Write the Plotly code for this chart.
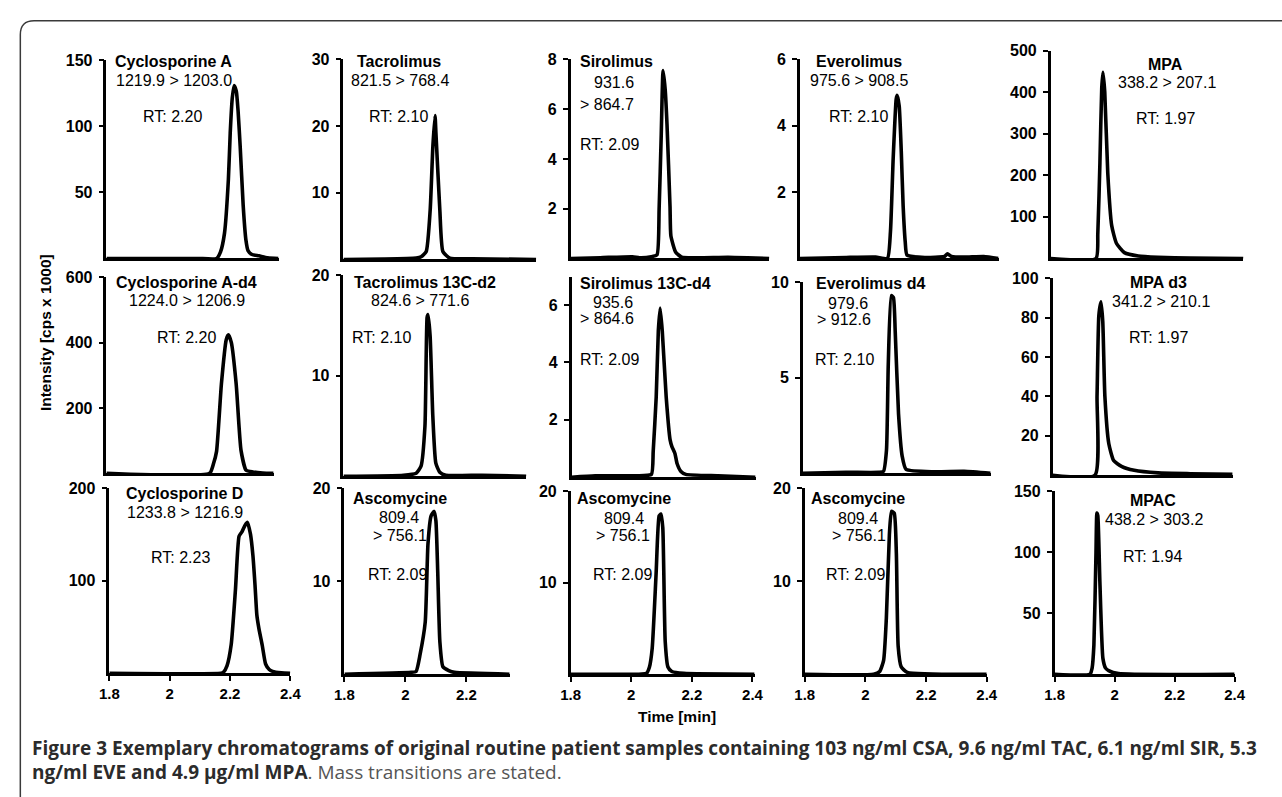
import plotly.graph_objects as go

# ---------------- data ----------------
COMPOUNDS = ["Cyclosporine A", "Tacrolimus", "Sirolimus", "Everolimus", "MPA",
             "Cyclosporine A-d4", "Tacrolimus 13C-d2", "Sirolimus 13C-d4", "Everolimus d4", "MPA d3",
             "Cyclosporine D", "Ascomycine", "Ascomycine", "Ascomycine", "MPAC"]
TRANSITIONS = [["1219.9 > 1203.0"], ["821.5 > 768.4"], ["931.6", "> 864.7"], ["975.6 > 908.5"], ["338.2 > 207.1"],
               ["1224.0 > 1206.9"], ["824.6 > 771.6"], ["935.6", "> 864.6"], ["979.6", "> 912.6"], ["341.2 > 210.1"],
               ["1233.8 > 1216.9"], ["809.4", "> 756.1"], ["809.4", "> 756.1"], ["809.4", "> 756.1"], ["438.2 > 303.2"]]
RT_LABELS = ["RT: 2.20", "RT: 2.10", "RT: 2.09", "RT: 2.10", "RT: 1.97",
             "RT: 2.20", "RT: 2.10", "RT: 2.09", "RT: 2.10", "RT: 1.97",
             "RT: 2.23", "RT: 2.09", "RT: 2.09", "RT: 2.09", "RT: 1.94"]

CSA_T = [1.80, 2.10, 2.165, 2.178, 2.191, 2.204, 2.210, 2.217, 2.223, 2.230, 2.236, 2.243, 2.253, 2.262, 2.269, 2.282, 2.305, 2.334, 2.370]
CSA_I = [0, 0, 0, 5, 19, 60, 95, 122, 131, 127, 112, 85, 40, 14, 6, 3, 2, 0.5, 0]
TAC_T = [1.80, 1.934, 2.041, 2.057, 2.074, 2.087, 2.096, 2.103, 2.106, 2.119, 2.129, 2.152, 2.227, 2.438]
TAC_I = [0, 0.05, 0.2, 0.4, 1.2, 7.4, 17, 21.6, 19, 7.4, 1.2, 0.2, 0.1, 0]
SIR_T = [1.80, 1.898, 2.005, 2.028, 2.067, 2.086, 2.093, 2.100, 2.106, 2.113, 2.119, 2.129, 2.132, 2.148, 2.168, 2.223, 2.321, 2.386, 2.458]
SIR_I = [0, 0.03, 0.07, 0.03, 0.07, 0.15, 2, 5, 7.55, 6.8, 5.4, 2.1, 0.9, 0.25, 0.05, 0.03, 0.05, 0.03, 0]
EVE_T = [1.80, 1.953, 2.051, 2.090, 2.100, 2.109, 2.119, 2.122, 2.129, 2.136, 2.142, 2.149, 2.155, 2.214, 2.279, 2.289, 2.302, 2.344, 2.409, 2.458]
EVE_I = [0, 0.03, 0.04, 0, 0.8, 3, 4.8, 4.92, 4.6, 3.2, 1.6, 0.5, 0.1, 0.03, 0.06, 0.14, 0.06, 0.04, 0.06, 0]
MPA_T = [1.80, 1.950, 1.956, 1.963, 1.969, 1.973, 1.979, 1.989, 2.002, 2.018, 2.044, 2.090, 2.155, 2.263, 2.438]
MPA_I = [0, 0, 60, 230, 410, 448, 400, 205, 79, 36, 14, 6, 3, 1, 0]

CSAD4_T = [1.80, 2.142, 2.155, 2.165, 2.181, 2.197, 2.204, 2.214, 2.230, 2.246, 2.263, 2.285, 2.318, 2.354]
CSAD4_I = [0, 0, 30, 67, 273, 409, 424, 400, 273, 70, 9, 4, 1, 0]
TACD2_T = [1.80, 1.999, 2.041, 2.057, 2.070, 2.077, 2.080, 2.087, 2.096, 2.106, 2.119, 2.139, 2.259, 2.406]
TACD2_I = [0, 0.1, 0.3, 1, 5, 15.8, 16.1, 14, 6, 1.3, 0.4, 0.1, 0.1, 0]
SIRD4_T = [1.80, 1.878, 2.015, 2.064, 2.070, 2.080, 2.087, 2.093, 2.100, 2.113, 2.126, 2.132, 2.142, 2.149, 2.162, 2.178, 2.285, 2.409]
SIRD4_I = [0, 0.05, 0.05, 0.1, 0.9, 2.8, 5.1, 5.9, 5.1, 2.8, 1.3, 1.07, 0.83, 0.48, 0.2, 0.1, 0.05, 0]
EVED4_T = [1.80, 1.943, 2.051, 2.067, 2.077, 2.083, 2.093, 2.100, 2.106, 2.117, 2.129, 2.142, 2.236, 2.334, 2.422]
EVED4_I = [0, 0.05, 0.05, 0.1, 1.2, 5.7, 9.3, 9.2, 7.4, 3.1, 0.9, 0.2, 0.08, 0.1, 0]
MPAD3_T = [1.80, 1.940, 1.947, 1.953, 1.960, 1.966, 1.973, 1.986, 2.002, 2.028, 2.070, 2.149, 2.256, 2.396]
MPAD3_I = [0, 0, 40, 81, 88, 78, 40, 16, 7.5, 4.5, 2.5, 1.2, 0.8, 0.5]

CSD_T = [1.80, 2.17, 2.178, 2.19, 2.204, 2.218, 2.230, 2.240, 2.250, 2.258, 2.268, 2.276, 2.283, 2.289, 2.296, 2.307, 2.318, 2.330, 2.341, 2.37, 2.40]
CSD_I = [0, 0, 1, 8, 31, 90, 148, 153, 160, 163, 150, 127, 95, 63, 48, 30, 10, 4, 2, 0.5, 0]
ASC1_T = [1.80, 2.019, 2.035, 2.048, 2.065, 2.074, 2.084, 2.094, 2.100, 2.106, 2.113, 2.123, 2.142, 2.161, 2.342]
ASC1_I = [0, 0.2, 0.3, 2.1, 5.6, 14, 17, 17.5, 16.5, 11, 3.5, 0.8, 0.4, 0.2, 0]
ASC2_T = [1.80, 2.021, 2.05, 2.06, 2.069, 2.082, 2.092, 2.098, 2.104, 2.112, 2.121, 2.134, 2.173, 2.407]
ASC2_I = [0, 0, 0.1, 0.8, 2.8, 11, 17.3, 17.5, 16, 3.6, 0.8, 0.3, 0.1, 0]
ASC3_T = [1.80, 2.027, 2.047, 2.06, 2.069, 2.079, 2.086, 2.095, 2.102, 2.108, 2.118, 2.138, 2.4]
ASC3_I = [0, 0, 0.3, 1.5, 6, 15, 17.5, 17.3, 13, 3, 0.8, 0.2, 0]
MPAC_T = [1.80, 1.918, 1.925, 1.931, 1.938, 1.941, 1.944, 1.951, 1.961, 1.970, 1.980, 2.013, 2.4]
MPAC_I = [0, 0, 5, 24, 100, 132, 130, 75, 13, 5, 3, 0.5, 0]

SERIES = [(CSA_T, CSA_I), (TAC_T, TAC_I), (SIR_T, SIR_I), (EVE_T, EVE_I), (MPA_T, MPA_I),
          (CSAD4_T, CSAD4_I), (TACD2_T, TACD2_I), (SIRD4_T, SIRD4_I), (EVED4_T, EVED4_I), (MPAD3_T, MPAD3_I),
          (CSD_T, CSD_I), (ASC1_T, ASC1_I), (ASC2_T, ASC2_I), (ASC3_T, ASC3_I), (MPAC_T, MPAC_I)]

Y_MAX = [150, 30, 8, 6, 500, 600, 20, 6.97, 10, 100, 200, 20, 20, 20, 150]
Y_TICKS = [[50, 100, 150], [10, 20, 30], [2, 4, 6, 8], [2, 4, 6], [100, 200, 300, 400, 500],
           [200, 400, 600], [10, 20], [2, 4, 6], [5, 10], [20, 40, 60, 80, 100],
           [100, 200], [10, 20], [10, 20], [10, 20], [50, 100, 150]]
X_MAX = [2.370, 2.438, 2.458, 2.458, 2.438, 2.354, 2.406, 2.409, 2.422, 2.396, 2.4, 2.342, 2.407, 2.4, 2.4]
X_TICKS = [1.8, 2, 2.2, 2.4]
X_TICK_LABELS = ["1.8", "2", "2.2", "2.4"]

# ---------------- layout geometry (pixels) ----------------
W, H = 1282, 797
# x0 (y-axis), x1 (right end), y baseline, y top of axis
GEOM = [(98, 273, 253, 53), (339, 535, 254, 52), (570, 772, 253, 52), (803, 1005, 253, 52), (1058, 1254, 253, 43),
        (98, 268, 470, 272), (339, 525, 473, 270), (571, 758, 474, 272), (806, 997, 470, 277), (1060, 1243, 472, 273),
        (101, 285, 672, 485), (340, 508, 673, 485), (570, 757, 673, 488), (808, 993, 673, 485), (1062, 1245, 673, 488)]
# label positions: name (x,y), transition lines [(x,y)...], RT (x,y)
LBL = [((166, 54), [(167, 73)], (165, 110)),
       ((395, 54), [(397, 73)], (395, 110)),
       ((617, 54), [(614, 75), (607, 97)], (609, 138)),
       ((863, 54), [(863, 73)], (863, 110)),
       ((1175, 57), [(1176, 75)], (1175, 112)),
       ((179, 277), [(180, 295)], (179, 333)),
       ((422, 277), [(417, 295)], (378, 333)),
       ((646, 278), [(613, 297), (607, 314)], (609, 355)),
       ((875, 278), [(852, 298), (848, 315)], (848, 355)),
       ((1168, 277), [(1170, 296)], (1168, 333)),
       ((177, 490), [(178, 510)], (173, 555)),
       ((396, 495), [(395, 515), (397, 533)], (394, 572)),
       ((624, 495), [(624, 516), (623, 533)], (623, 572)),
       ((862, 495), [(862, 516), (863, 533)], (860, 572)),
       ((1162, 497), [(1163, 517)], (1162, 554))]

FONT = "Liberation Sans, Arial, sans-serif"


def px(x):
    return x / W


def py(y):
    return 1 - y / H


fig = go.Figure()
layout = {}
annotations = []

for i, ((t, inten), (x0, x1, yb, yt)) in enumerate(zip(SERIES, GEOM)):
    n = "" if i == 0 else str(i + 1)
    xa, ya = "x" + n, "y" + n
    fig.add_trace(go.Scatter(x=t, y=inten, mode="lines", xaxis=xa, yaxis=ya,
                             line=dict(color="black", width=3.6, shape="spline", smoothing=0.5),
                             hoverinfo="skip", showlegend=False))
    bottom = i >= 10
    xt = [v for v in X_TICKS if v <= X_MAX[i] + 1e-9]
    layout["xaxis" + n] = dict(
        domain=[px(x0), px(x1)], range=[1.8, X_MAX[i]], anchor=ya,
        showline=True, linecolor="black", linewidth=2.5, showgrid=False, zeroline=False,
        ticks="outside" if bottom else "", ticklen=5, tickwidth=2, tickcolor="black",
        tickvals=xt, ticktext=X_TICK_LABELS[:len(xt)], showticklabels=bottom,
        tickfont=dict(family=FONT, size=15, color="black", weight="bold"),
        fixedrange=True)
    layout["yaxis" + n] = dict(
        domain=[py(yb), py(yt)], range=[0, Y_MAX[i]], anchor=xa,
        showline=True, linecolor="black", linewidth=2.5, showgrid=False, zeroline=False,
        ticks="outside", ticklen=5, tickwidth=2, tickcolor="black",
        tickvals=Y_TICKS[i], ticktext=[str(v) for v in Y_TICKS[i]],
        tickfont=dict(family=FONT, size=16, color="black", weight="bold"),
        ticklabelstandoff=3, fixedrange=True)

    (nx, ny), tlines, (rx, ry) = LBL[i]
    annotations.append(dict(x=px(nx), y=py(ny), xref="paper", yref="paper", text="<b>%s</b>" % COMPOUNDS[i],
                            showarrow=False, xanchor="center", yanchor="middle",
                            font=dict(family=FONT, size=16, color="black")))
    for (tx, ty), txt in zip(tlines, TRANSITIONS[i]):
        annotations.append(dict(x=px(tx), y=py(ty), xref="paper", yref="paper", text=txt,
                                showarrow=False, xanchor="center", yanchor="middle",
                                font=dict(family=FONT, size=16, color="black")))
    annotations.append(dict(x=px(rx), y=py(ry), xref="paper", yref="paper", text=RT_LABELS[i],
                            showarrow=False, xanchor="center", yanchor="middle",
                            font=dict(family=FONT, size=16, color="black")))

# axis titles
annotations.append(dict(x=px(36), y=py(328), xref="paper", yref="paper", text="<b>Intensity [cps x 1000]</b>",
                        textangle=-90, showarrow=False, xanchor="center", yanchor="middle",
                        font=dict(family=FONT, size=15.5, color="black")))
annotations.append(dict(x=px(678), y=py(716), xref="paper", yref="paper", text="<b>Time [min]</b>",
                        showarrow=False, xanchor="center", yanchor="middle",
                        font=dict(family=FONT, size=15.5, color="black")))

# caption
CAP_FONT = "Open Sans, sans-serif"
annotations.append(dict(
    x=px(20), y=py(747), xref="paper", yref="paper", showarrow=False, xanchor="left", yanchor="middle",
    text="<b>Figure 3 Exemplary chromatograms of original routine patient samples containing 103 ng/ml CSA, 9.6 ng/ml TAC, 6.1 ng/ml SIR, 5.3</b>",
    font=dict(family=CAP_FONT, size=19, color="#2b2b2b")))
annotations.append(dict(
    x=px(20), y=py(772), xref="paper", yref="paper", showarrow=False, xanchor="left", yanchor="middle",
    text="<b>ng/ml EVE and 4.9 µg/ml MPA</b><span style='color:#555555'>. Mass transitions are stated.</span>",
    font=dict(family=CAP_FONT, size=19, color="#2b2b2b")))

# frame (rounded top-left corner, other sides cropped)
r = 14
path = "M %f,%f L %f,%f Q %f,%f %f,%f L %f,%f" % (
    px(10.5), py(810), px(10.5), py(13 + r), px(10.5), py(13), px(10.5 + r), py(13), px(1295), py(13))
shapes = [dict(type="path", xref="paper", yref="paper", path=path,
               line=dict(color="#3a3a3a", width=1.5))]

fig.update_layout(width=W, height=H, margin=dict(l=0, r=0, t=0, b=0),
                  paper_bgcolor="white", plot_bgcolor="white", showlegend=False,
                  annotations=annotations, shapes=shapes, **layout)

fig.write_html("out.html", config={"displayModeBar": False},
               post_script="document.body.style.margin='0px';document.body.style.overflow='hidden';")
